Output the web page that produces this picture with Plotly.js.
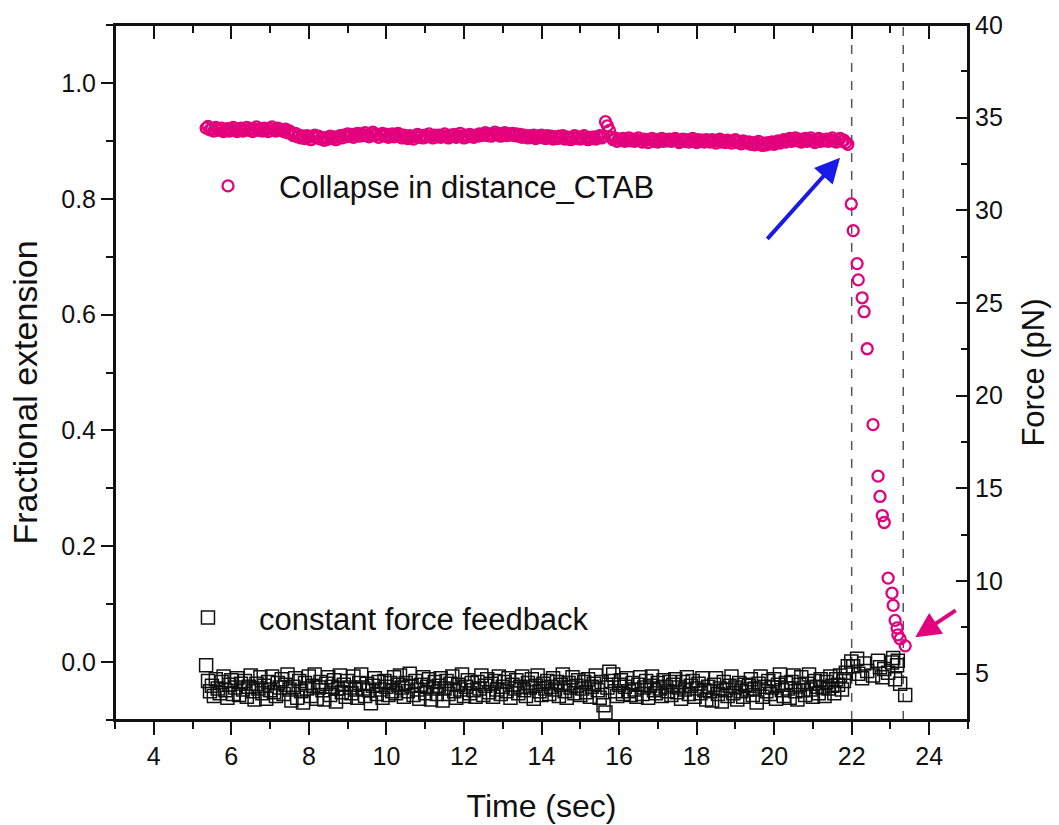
<!DOCTYPE html>
<html>
<head>
<meta charset="utf-8">
<script src="https://cdn.plot.ly/plotly-3.0.1.min.js"></script>
<style>html,body{margin:0;padding:0;background:#fff;}#chart{width:1059px;height:825px;}</style>
</head>
<body>
<div id="chart"></div>
<script>
// Time stamps (sec)
const time = [
5.35,5.40,5.45,5.50,5.55,5.60,5.65,5.70,5.75,5.80,5.85,5.90,5.95,6.00,6.05,6.10,6.15,6.20,6.25,6.30,
6.35,6.40,6.45,6.50,6.55,6.60,6.65,6.70,6.75,6.80,6.85,6.90,6.95,7.00,7.05,7.10,7.15,7.20,7.25,7.30,
7.35,7.40,7.45,7.50,7.55,7.60,7.65,7.70,7.75,7.80,7.85,7.90,7.95,8.00,8.05,8.10,8.15,8.20,8.25,8.30,
8.35,8.40,8.45,8.50,8.55,8.60,8.65,8.70,8.75,8.80,8.85,8.90,8.95,9.00,9.05,9.10,9.15,9.20,9.25,9.30,
9.35,9.40,9.45,9.50,9.55,9.60,9.65,9.70,9.75,9.80,9.85,9.90,9.95,10.00,10.05,10.10,10.15,10.20,10.25,10.30,
10.35,10.40,10.45,10.50,10.55,10.60,10.65,10.70,10.75,10.80,10.85,10.90,10.95,11.00,11.05,11.10,11.15,11.20,11.25,11.30,
11.35,11.40,11.45,11.50,11.55,11.60,11.65,11.70,11.75,11.80,11.85,11.90,11.95,12.00,12.05,12.10,12.15,12.20,12.25,12.30,
12.35,12.40,12.45,12.50,12.55,12.60,12.65,12.70,12.75,12.80,12.85,12.90,12.95,13.00,13.05,13.10,13.15,13.20,13.25,13.30,
13.35,13.40,13.45,13.50,13.55,13.60,13.65,13.70,13.75,13.80,13.85,13.90,13.95,14.00,14.05,14.10,14.15,14.20,14.25,14.30,
14.35,14.40,14.45,14.50,14.55,14.60,14.65,14.70,14.75,14.80,14.85,14.90,14.95,15.00,15.05,15.10,15.15,15.20,15.25,15.30,
15.35,15.40,15.45,15.50,15.55,15.60,15.65,15.70,15.75,15.80,15.85,15.90,15.95,16.00,16.05,16.10,16.15,16.20,16.25,16.30,
16.35,16.40,16.45,16.50,16.55,16.60,16.65,16.70,16.75,16.80,16.85,16.90,16.95,17.00,17.05,17.10,17.15,17.20,17.25,17.30,
17.35,17.40,17.45,17.50,17.55,17.60,17.65,17.70,17.75,17.80,17.85,17.90,17.95,18.00,18.05,18.10,18.15,18.20,18.25,18.30,
18.35,18.40,18.45,18.50,18.55,18.60,18.65,18.70,18.75,18.80,18.85,18.90,18.95,19.00,19.05,19.10,19.15,19.20,19.25,19.30,
19.35,19.40,19.45,19.50,19.55,19.60,19.65,19.70,19.75,19.80,19.85,19.90,19.95,20.00,20.05,20.10,20.15,20.20,20.25,20.30,
20.35,20.40,20.45,20.50,20.55,20.60,20.65,20.70,20.75,20.80,20.85,20.90,20.95,21.00,21.05,21.10,21.15,21.20,21.25,21.30,
21.35,21.40,21.45,21.50,21.55,21.60,21.65,21.70,21.75,21.80,21.85,21.90,
21.99,22.04,22.14,22.17,22.27,22.32,22.40,22.55,22.68,22.73,
22.79,22.84,22.94,23.04,23.07,23.12,23.17,23.19,23.25,23.38
];
// Fractional extension (left axis)
const extension = [
0.922,0.925,0.919,0.921,0.917,0.923,0.920,0.918,0.922,0.916,0.919,0.921,0.917,0.920,0.923,0.918,0.916,0.920,0.922,0.917,
0.919,0.923,0.918,0.921,0.916,0.920,0.924,0.918,0.921,0.917,0.922,0.919,0.916,0.921,0.924,0.919,0.917,0.922,0.920,0.918,
0.916,0.920,0.914,0.917,0.912,0.909,0.913,0.907,0.910,0.905,0.908,0.904,0.909,0.906,0.902,0.907,0.910,0.905,0.908,0.903,
0.905,0.901,0.906,0.903,0.908,0.904,0.907,0.902,0.906,0.909,0.905,0.910,0.907,0.912,0.908,0.911,0.906,0.910,0.913,0.908,
0.912,0.909,0.914,0.910,0.907,0.912,0.915,0.909,0.911,0.906,0.910,0.913,0.908,0.911,0.906,0.909,0.912,0.907,0.910,0.913,
0.909,0.905,0.910,0.907,0.904,0.909,0.906,0.903,0.908,0.911,0.906,0.909,0.905,0.910,0.907,0.912,0.908,0.905,0.910,0.907,
0.910,0.906,0.909,0.912,0.907,0.905,0.910,0.908,0.911,0.906,0.909,0.913,0.908,0.905,0.910,0.907,0.911,0.909,0.906,0.910,
0.908,0.912,0.909,0.911,0.914,0.909,0.912,0.908,0.911,0.915,0.910,0.913,0.908,0.911,0.914,0.909,0.912,0.910,0.913,0.909,
0.912,0.908,0.911,0.906,0.910,0.907,0.905,0.909,0.906,0.910,0.904,0.908,0.906,0.910,0.907,0.904,0.909,0.905,0.908,0.903,
0.907,0.904,0.908,0.905,0.909,0.903,0.907,0.905,0.902,0.906,0.909,0.904,0.907,0.903,0.906,0.909,0.905,0.902,0.906,0.904,
0.907,0.903,0.906,0.909,0.905,0.908,0.933,0.926,0.918,0.906,0.902,0.905,0.899,0.903,0.901,0.904,0.899,0.902,0.905,0.900,
0.903,0.899,0.902,0.905,0.900,0.898,0.903,0.901,0.897,0.902,0.904,0.899,0.902,0.898,0.901,0.904,0.899,0.902,0.900,0.903,
0.899,0.902,0.904,0.900,0.897,0.901,0.903,0.899,0.902,0.898,0.901,0.904,0.900,0.897,0.902,0.899,0.901,0.898,0.902,0.900,
0.898,0.902,0.899,0.896,0.901,0.903,0.898,0.900,0.897,0.901,0.899,0.896,0.900,0.902,0.897,0.899,0.895,0.900,0.898,0.896,
0.898,0.894,0.897,0.893,0.896,0.899,0.894,0.892,0.896,0.893,0.897,0.895,0.898,0.894,0.897,0.900,0.896,0.899,0.902,0.898,
0.901,0.904,0.899,0.902,0.905,0.900,0.903,0.898,0.901,0.904,0.899,0.902,0.905,0.900,0.897,0.902,0.904,0.899,0.902,0.900,
0.903,0.899,0.902,0.905,0.900,0.898,0.902,0.904,0.899,0.901,0.897,0.894,
0.791,0.745,0.688,0.660,0.629,0.605,0.541,0.410,0.321,0.286,
0.253,0.241,0.145,0.119,0.098,0.072,0.059,0.047,0.040,0.028
];
// Force (pN, right axis)
const force = [
5.45,4.60,4.05,4.35,3.80,4.70,4.20,3.95,4.55,4.85,4.10,3.70,4.40,4.65,3.90,4.25,4.75,3.85,4.45,4.15,
4.60,3.75,4.30,4.90,4.05,3.60,4.45,4.20,4.80,3.95,4.35,3.65,4.55,4.10,4.85,4.00,3.80,4.50,4.25,4.70,
3.90,4.40,4.95,4.15,3.55,4.30,4.75,3.70,4.60,4.05,3.45,4.50,4.20,4.85,3.80,4.35,4.95,3.65,4.25,4.55,
4.10,3.60,4.45,4.80,3.85,4.30,4.65,3.50,4.20,4.90,4.00,4.40,3.75,4.60,4.25,3.95,4.85,4.15,3.70,4.50,
4.95,4.20,3.80,4.45,4.10,3.40,4.35,4.75,3.90,4.55,4.15,3.70,4.60,4.30,3.85,4.50,4.05,4.80,3.95,4.40,
4.90,4.25,3.75,4.50,4.05,5.00,4.35,3.85,4.60,4.15,3.65,4.40,4.80,3.95,4.30,4.70,3.60,4.20,4.55,3.90,
4.35,4.75,3.55,4.20,4.60,3.90,4.45,4.85,4.05,3.70,4.40,4.15,4.95,3.80,4.30,4.65,3.95,4.50,4.10,3.75,
4.55,4.20,4.90,3.85,4.35,4.70,4.00,4.45,3.75,4.60,4.15,4.85,3.90,4.30,4.55,4.05,4.75,3.70,4.40,4.20,
4.65,3.95,4.30,4.85,4.10,3.80,4.50,4.25,4.70,3.65,4.35,4.90,4.05,3.85,4.45,4.20,4.60,3.90,4.30,4.75,
4.15,4.55,3.80,4.40,4.95,4.05,3.70,4.50,4.25,4.80,3.95,4.35,4.65,3.85,4.20,4.55,4.00,4.70,3.75,4.30,
4.45,4.90,4.10,3.70,4.55,3.30,2.90,4.25,5.10,4.60,4.95,4.05,3.80,4.40,4.65,3.90,4.30,4.75,4.05,3.85,
4.50,4.15,3.75,4.40,4.80,3.90,4.25,4.60,3.70,4.35,4.85,4.10,3.95,4.50,4.20,3.80,4.65,4.30,4.05,4.55,
3.85,4.40,4.70,4.00,4.25,3.65,4.55,4.15,4.80,3.90,4.35,4.60,3.75,4.20,4.45,3.95,4.75,4.10,3.60,4.30,
4.05,3.55,4.40,4.75,3.90,4.20,3.50,4.55,4.10,3.80,4.35,4.85,3.95,4.25,3.60,4.50,4.05,3.75,4.40,4.15,
4.35,4.70,3.85,4.20,3.45,4.45,4.85,3.75,4.30,4.05,4.60,3.90,4.25,4.70,3.65,4.40,4.95,4.10,3.80,4.50,
4.20,3.70,4.55,4.90,4.05,3.60,4.40,4.80,4.10,3.85,4.45,4.95,4.15,3.75,4.60,4.30,3.95,4.70,4.25,3.80,
4.55,4.20,4.85,4.35,3.95,4.70,4.40,4.90,4.15,4.60,5.05,5.40,
5.65,5.40,5.80,5.00,4.75,5.55,5.15,4.90,5.70,5.35,
4.80,5.25,5.05,5.60,5.85,4.70,5.45,5.70,4.45,3.85
];
const seriesNames = ['Collapse in distance_CTAB', 'constant force feedback'];
const axisTitles = {x: 'Time (sec)', yLeft: 'Fractional extension', yRight: 'Force (pN)'};
const dashedTimes = [22.0, 23.33];
const xTickVals = [4,6,8,10,12,14,16,18,20,22,24];

const FONT = 'Liberation Sans, Arial, Helvetica, sans-serif';
const PINK = '#e2007c';
const INK = '#111111';

const traces = [
  {
    x: time, y: extension, type: 'scatter', mode: 'markers', name: seriesNames[0],
    xaxis: 'x', yaxis: 'y', legend: 'legend',
    marker: {symbol: 'circle-open', size: 11, color: PINK, line: {color: PINK, width: 2.3}}
  },
  {
    x: time, y: force, type: 'scatter', mode: 'markers', name: seriesNames[1],
    xaxis: 'x2', yaxis: 'y2', legend: 'legend2',
    marker: {symbol: 'square-open', size: 13, color: INK, line: {color: INK, width: 1.5}}
  }
];

const layout = {
  width: 1059, height: 825,
  margin: {l: 115, r: 91, t: 25, b: 105},
  xaxis: {
    range: [3, 25], tickvals: xTickVals, ticks: 'outside', ticklen: 13, tickwidth: 2, tickcolor: INK,
    minor: {dtick: 1, tick0: 0, ticks: 'outside', ticklen: 7, tickwidth: 2, tickcolor: INK},
    showline: true, mirror: true, linewidth: 2, linecolor: INK, showgrid: false, zeroline: false,
    tickfont: {size: 25, family: FONT, color: INK},
    title: {text: axisTitles.x, font: {size: 32, family: FONT, color: INK}, standoff: 26}
  },
  xaxis2: {
    overlaying: 'x', side: 'top', anchor: 'free', position: 1, range: [3, 25], tickvals: xTickVals,
    ticks: 'inside', ticklen: 13, tickwidth: 2, tickcolor: INK,
    minor: {dtick: 1, tick0: 0, ticks: 'inside', ticklen: 7, tickwidth: 2, tickcolor: INK},
    showticklabels: false, showline: true, linewidth: 2, linecolor: INK, showgrid: false, zeroline: false
  },
  yaxis: {
    range: [-0.1, 1.1], dtick: 0.2, tick0: 0, tickformat: '.1f',
    ticks: 'outside', ticklen: 12, tickwidth: 2, tickcolor: INK,
    minor: {dtick: 0.1, tick0: 0, ticks: 'outside', ticklen: 7, tickwidth: 2, tickcolor: INK},
    showline: true, linewidth: 2, linecolor: INK, showgrid: false, zeroline: false,
    tickfont: {size: 25, family: FONT, color: INK}
  },
  yaxis2: {
    overlaying: 'y', side: 'right', anchor: 'x', range: [2.5, 40], dtick: 5, tick0: 0,
    ticks: 'inside', ticklen: 12, tickwidth: 2, tickcolor: INK,
    minor: {dtick: 2.5, tick0: 0, ticks: 'inside', ticklen: 7, tickwidth: 2, tickcolor: INK},
    showline: true, linewidth: 2, linecolor: INK, showgrid: false, zeroline: false,
    tickfont: {size: 25, family: FONT, color: INK},
    title: {text: axisTitles.yRight, font: {size: 31, family: FONT, color: INK}, standoff: 20}
  },
  legend: {
    x: 0.0727, xanchor: 'left', y: 0.768, yanchor: 'middle',
    bgcolor: 'rgba(0,0,0,0)', borderwidth: 0, itemwidth: 92,
    font: {size: 31, family: FONT, color: INK}
  },
  legend2: {
    x: 0.0492, xanchor: 'left', y: 0.1468, yanchor: 'middle',
    bgcolor: 'rgba(0,0,0,0)', borderwidth: 0, itemwidth: 92,
    font: {size: 31, family: FONT, color: INK}
  },
  shapes: dashedTimes.map(t => ({
    type: 'line', xref: 'x', yref: 'paper', x0: t, x1: t, y0: 0, y1: 1,
    line: {color: '#555555', width: 1.5, dash: 'dash'}, layer: 'below'
  })).concat([{
    type: 'rect', xref: 'paper', yref: 'paper', x0: 0, x1: 1, y0: 0, y1: 1,
    line: {color: INK, width: 2}, fillcolor: 'rgba(0,0,0,0)', layer: 'above'
  }]),
  annotations: [
    {
      xref: 'paper', yref: 'paper', x: -0.106, y: 0.4705, xanchor: 'center', yanchor: 'middle',
      text: axisTitles.yLeft, textangle: -90, showarrow: false,
      font: {size: 34, family: FONT, color: INK}
    },
    {
      xref: 'x', yref: 'y', axref: 'x', ayref: 'y',
      x: 21.70, y: 0.871, ax: 19.79, ay: 0.728, text: '',
      showarrow: true, arrowhead: 2, arrowsize: 1.25, arrowwidth: 4, arrowcolor: '#1a1ae6', standoff: 0
    },
    {
      xref: 'x', yref: 'y', axref: 'x', ayref: 'y',
      x: 23.64, y: 0.043, ax: 24.72, ay: 0.091, text: '',
      showarrow: true, arrowhead: 2, arrowsize: 1.25, arrowwidth: 4, arrowcolor: PINK, standoff: 0
    }
  ],
  showlegend: true
};

Plotly.newPlot('chart', traces, layout, {displayModeBar: false, staticPlot: true});
</script>
</body>
</html>
